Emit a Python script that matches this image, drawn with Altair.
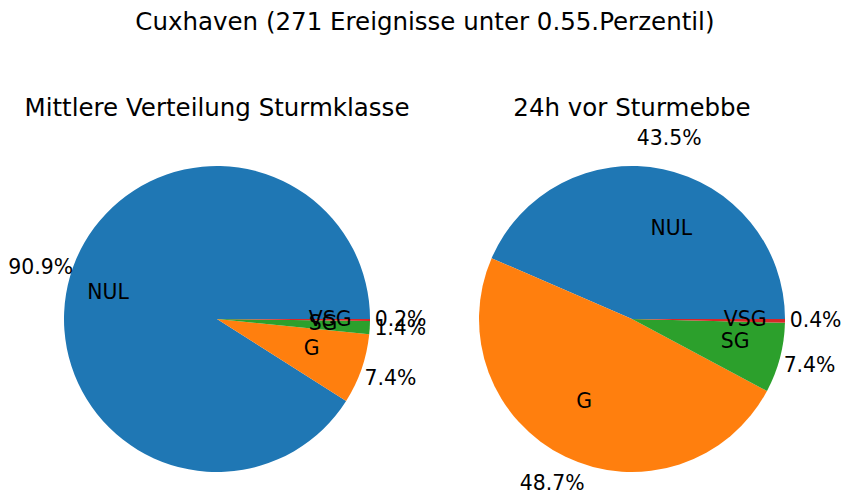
import math
import altair as alt
import pandas as pd

categories = ["NUL", "G", "SG", "VSG"]
left_values = [90.9, 7.4, 1.4, 0.2]
right_values = [43.5, 48.7, 7.4, 0.4]
colors = ["#1f77b4", "#ff7f0e", "#2ca02c", "#d62728"]

suptitle = "Cuxhaven (271 Ereignisse unter 0.55.Perzentil)"
left_title = "Mittlere Verteilung Sturmklasse"
right_title = "24h vor Sturmebbe"

FONT = "DejaVu Sans"
R = 153
LABEL_SIZE = 20.4
TITLE_SIZE = 24.5


def pie(values, title, title_offset):
    df = pd.DataFrame({"cat": categories, "value": values, "order": list(range(len(values)))})
    total = sum(values)
    base = alt.Chart(df).transform_window(
        cum="sum(value)", sort=[{"field": "order"}], frame=[None, 0]
    ).transform_calculate(
        start="datum.cum - datum.value",
        mid="datum.cum - datum.value / 2",
        ang=f"(datum.cum - datum.value / 2) / {total} * 2 * PI",
    ).transform_calculate(
        side="cos(datum.ang) >= 0 ? 'L' : 'R'",
        pct="format(datum.value, '.1f') + '%'",
    )
    sc = alt.Scale(domain=[0, total], range=[math.pi / 2, math.pi / 2 - 2 * math.pi])
    arc = base.mark_arc(radius=R).encode(
        theta=alt.Theta("start:Q", scale=sc, stack=None),
        theta2="cum:Q",
        color=alt.Color("cat:N", scale=alt.Scale(domain=categories, range=colors), legend=None),
    )
    lab_l = base.transform_filter("datum.side == 'L'").mark_text(
        align="left", baseline="middle", fontSize=LABEL_SIZE, font=FONT, color="black"
    ).encode(
        theta=alt.Theta("mid:Q", scale=sc, stack=None),
        radius=alt.value(0.6 * R),
        text="cat:N",
    )
    lab_r = base.transform_filter("datum.side == 'R'").mark_text(
        align="right", baseline="middle", fontSize=LABEL_SIZE, font=FONT, color="black"
    ).encode(
        theta=alt.Theta("mid:Q", scale=sc, stack=None),
        radius=alt.value(0.6 * R),
        text="cat:N",
    )
    pct = base.mark_text(
        align="center", baseline="middle", fontSize=LABEL_SIZE, font=FONT, color="black"
    ).encode(
        theta=alt.Theta("mid:Q", scale=sc, stack=None),
        radius=alt.value(1.2 * R),
        text="pct:N",
    )
    return alt.layer(arc, lab_l, lab_r, pct).properties(
        width=2 * R,
        height=2 * R,
        title=alt.TitleParams(title, fontSize=TITLE_SIZE, font=FONT, fontWeight="normal",
                              offset=title_offset, anchor="middle", color="black"),
    )


chart = alt.hconcat(
    pie(left_values, left_title, 45), pie(right_values, right_title, 8),
    spacing=109, bounds="flush",
).properties(
    title=alt.TitleParams(suptitle, fontSize=TITLE_SIZE, font=FONT, fontWeight="normal",
                          offset=60, anchor="middle", color="black"),
    padding={"left": 0, "top": 2, "right": 0, "bottom": 0},
).configure_view(stroke=None)

chart.save("out.html", embed_options={"renderer": "svg", "actions": False})
